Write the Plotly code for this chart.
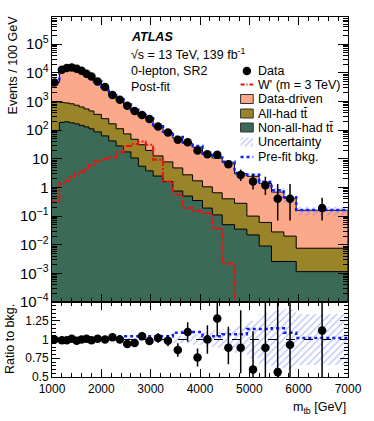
import numpy as np
import plotly.graph_objects as go
from plotly.subplots import make_subplots

# variable binning in m_tb [GeV]; first bin starts below the visible range
bin_edges = [950, 1150, 1250, 1350, 1450, 1550, 1650, 1750, 1850, 2000, 2150, 2300, 2450,
             2600, 2750, 2900, 3050, 3250, 3450, 3650, 3850, 4050, 4250, 4450, 4700, 4950,
             5200, 5450, 5700, 5950, 7000]

# events / 100 GeV
data = [4600, 12800, 14700, 15400, 13900, 11800, 9300, 7500, 5000, 3200, 1700, 1150, 710, 470,
        340, 245, 134, 83, 46, 38, 19.4, 14.5, 13.7, 6.5, 2.7, 1.6, 1.2, 0.4, 0.4, 0.19]
data_err_up = [48, 113, 121, 124, 118, 109, 96, 87, 58, 46, 34, 28, 22, 18, 15, 13, 8.2, 6.4,
               4.8, 4.4, 3.1, 2.7, 2.6, 2.04, 1.5, 1.26, 1.17, 0.92, 0.92, 0.25]
data_err_dn = [48, 113, 121, 124, 118, 109, 96, 87, 58, 46, 34, 28, 22, 18, 15, 13, 8.2, 6.4,
               4.8, 4.4, 3.1, 2.7, 2.6, 1.6, 1.03, 0.76, 0.65, 0.33, 0.33, 0.12]

data_driven = [3620, 11970, 13960, 14420, 13360, 11150, 8650, 7110, 4595, 2950, 1484, 1038,
               681, 444, 294, 230, 118, 76, 48, 31.8, 23.8, 13.5, 10.0, 6.9, 2.72, 2.35, 1.31,
               0.66, 0.40, 0.152]
allhad_tt = [882, 746, 696, 652, 575, 499, 420, 357, 268, 188, 124, 84, 56.6, 37.3, 25.5, 15.7,
             10.1, 6.2, 4.05, 2.25, 1.35, 0.86, 0.54, 0.35, 0.245, 0.078, 0.051, 0.0254, 0.0174,
             0.0064]
nonallhad_tt = [95, 187, 195, 180, 166, 147, 130, 111, 87, 63, 42, 28, 17.4, 10.7, 5.5, 3.8,
                2.5, 1.6, 0.75, 0.5, 0.35, 0.19, 0.11, 0.05, 0.035, 0.022, 0.009, 0.0026,
                0.0026, 0.00115]
wprime = [0.32, 1.4, 1.7, 2.3, 3.0, 3.5, 4.5, 6.0, 8.0, 10, 11, 17, 28, 33, 40, 31, 9.2, 1.6,
          0.55, 0.19, 0.155, 0.126, 0.037, 0.0022, 1e-4, 1e-4, 1e-4, 1e-4, 1e-4, 1e-4]

# ratio panel
prefit_ratio = [1, 1, 1, 1, 1, 1, 1, 1, 1, 1, 1, 1.045, 1.045, 1.045, 1.045, 1.045, 1.045,
                1.045, 1.09, 1.10, 1.10, 1.045, 1.045, 1.07, 1.07, 1.14, 1.14, 1.15, 1.09, 1.02]
bkg_unc = [0.01, 0.01, 0.01, 0.01, 0.01, 0.01, 0.01, 0.01, 0.01, 0.01, 0.02, 0.02, 0.02, 0.02,
           0.03, 0.03, 0.03, 0.03, 0.05, 0.05, 0.07, 0.09, 0.11, 0.14, 0.18, 0.25, 0.34, 0.38,
           0.40, 0.34]
ratio = [1.00, 0.99, 0.99, 1.01, 0.985, 1.00, 1.01, 0.99, 1.01, 1.00, 1.03, 1.00, 0.94, 0.955,
         1.045, 0.98, 1.02, 0.985, 0.86, 1.10, 0.76, 1.00, 1.28, 0.89, 0.89, 0.60, 0.89, 0.565,
         0.93, 1.12]
ratio_err_up = [0.01, 0.01, 0.01, 0.01, 0.01, 0.01, 0.01, 0.01, 0.012, 0.014, 0.02, 0.024,
                0.029, 0.036, 0.046, 0.051, 0.063, 0.076, 0.09, 0.13, 0.12, 0.19, 0.24, 0.28,
                0.5, 0.51, 0.85, 1.33, 2.2, 1.56]
ratio_err_dn = [0.01, 0.01, 0.01, 0.01, 0.01, 0.01, 0.01, 0.01, 0.012, 0.014, 0.02, 0.024,
                0.029, 0.036, 0.046, 0.051, 0.063, 0.076, 0.09, 0.13, 0.12, 0.19, 0.24, 0.22,
                0.34, 0.31, 0.47, 0.48, 0.79, 0.75]

FONT = "Liberation Sans, Arial, Helvetica, sans-serif"
L, R, T, B = 52, 19, 17, 44
PW, PH = 374 - L - R, 421 - T - B

C_DD = "#fba98a"
C_AH = "#9a842a"
C_NAH = "#3b6b56"
C_BLUE = "#1020f0"
C_HATCH = "#7080ff"

edges = np.array(bin_edges, float)
centers = 0.5 * (edges[1:] + edges[:-1])


def step_line(vals):
    v = np.asarray(vals, float)
    return edges, np.append(v, v[-1])


def step_area(vals, floor=1e-7):
    v = np.asarray(vals, float)
    x = np.repeat(edges, 2)
    y = np.concatenate([[floor], np.repeat(v, 2), [floor]])
    return x, y


def band(lo, hi):
    x = np.repeat(edges, 2)[1:-1]
    return (np.concatenate([x, x[::-1]]),
            np.concatenate([np.repeat(hi, 2), np.repeat(lo, 2)[::-1]]))


def px(xp, yp):
    return (xp - L) / PW, (T + PH - yp) / PH


stack1 = np.array(nonallhad_tt)
stack2 = stack1 + np.array(allhad_tt)
total = stack2 + np.array(data_driven)
unc = np.array(bkg_unc)

fig = make_subplots(rows=2, cols=1, shared_xaxes=True, vertical_spacing=0,
                    row_heights=[0.7917, 0.2083])

for vals, col in [(total, C_DD), (stack2, C_AH), (stack1, C_NAH)]:
    x, y = step_area(vals)
    fig.add_trace(go.Scatter(x=x, y=y, mode="lines", fill="toself", fillcolor=col,
                             line=dict(color="black", width=1), hoverinfo="skip",
                             showlegend=False), row=1, col=1)

bx, by = band(total * (1 - unc), total * (1 + unc))
fig.add_trace(go.Scatter(x=bx, y=by, mode="lines", fill="toself", fillcolor="rgba(0,0,0,0)",
                         fillpattern=dict(shape="/", fgcolor=C_HATCH, size=5, solidity=0.25),
                         line=dict(width=0), showlegend=False), row=1, col=1)

x, y = step_line(total * np.array(prefit_ratio))
fig.add_trace(go.Scatter(x=x, y=y, mode="lines", line_shape="hv",
                         line=dict(color=C_BLUE, width=2.5, dash="dot"), showlegend=False),
              row=1, col=1)

x, y = step_line(wprime)
fig.add_trace(go.Scatter(x=x, y=y, mode="lines", line_shape="hv",
                         line=dict(color="#ee1111", width=2, dash="6px,2px,2px,2px"),
                         showlegend=False), row=1, col=1)

fig.add_trace(go.Scatter(x=centers, y=data, mode="markers",
                         marker=dict(color="black", size=8.5),
                         error_y=dict(type="data", symmetric=False, array=data_err_up,
                                      arrayminus=data_err_dn, color="black", thickness=1.5,
                                      width=0),
                         showlegend=False), row=1, col=1)

# ratio panel
bx, by = band(1 - unc, 1 + unc)
fig.add_trace(go.Scatter(x=bx, y=by, mode="lines", fill="toself", fillcolor="rgba(0,0,0,0)",
                         fillpattern=dict(shape="/", fgcolor=C_HATCH, size=5, solidity=0.25),
                         line=dict(width=0), showlegend=False), row=2, col=1)
fig.add_hline(y=1, line=dict(color="black", width=1, dash="dash"), row=2, col=1)
x, y = step_line(prefit_ratio)
fig.add_trace(go.Scatter(x=x, y=y, mode="lines", line_shape="hv",
                         line=dict(color=C_BLUE, width=2.5, dash="dot"), showlegend=False),
              row=2, col=1)
fig.add_trace(go.Scatter(x=centers, y=ratio, mode="markers",
                         marker=dict(color="black", size=8.5),
                         error_y=dict(type="data", symmetric=False, array=ratio_err_up,
                                      arrayminus=ratio_err_dn, color="black", thickness=1.5,
                                      width=0),
                         showlegend=False), row=2, col=1)

# legend symbols on an overlay axis pair in pixel units
ov = dict(xaxis="x3", yaxis="y3", showlegend=False, hoverinfo="skip")
fig.add_trace(go.Scatter(x=[251.5], y=[71], mode="markers",
                         marker=dict(color="black", size=8.5), **ov))
fig.add_trace(go.Scatter(x=[245, 258], y=[84.5, 84.5], mode="lines",
                         line=dict(color="#ee1111", width=2, dash="4px,2px,1px,2px"), **ov))
for yc, col in [(99, C_DD), (113.5, C_AH), (127.5, C_NAH)]:
    fig.add_trace(go.Scatter(x=[245, 258, 258, 245, 245],
                             y=[yc - 4.5, yc - 4.5, yc + 4.5, yc + 4.5, yc - 4.5],
                             mode="lines", fill="toself", fillcolor=col,
                             line=dict(color="#333333", width=1), **ov))
fig.add_trace(go.Scatter(x=[245, 258, 258, 245, 245], y=[137.5, 137.5, 146.5, 146.5, 137.5],
                         mode="lines", fill="toself", fillcolor="rgba(0,0,0,0)",
                         fillpattern=dict(shape="/", fgcolor=C_HATCH, size=4, solidity=0.3),
                         line=dict(width=0), **ov))
fig.add_trace(go.Scatter(x=[245, 258], y=[157, 157], mode="lines",
                         line=dict(color=C_BLUE, width=2.5, dash="dot"), **ov))

legend_text = ["Data", "W' (m = 3 TeV)", "Data-driven", "All-had tt\u0304",
               "Non-all-had tt\u0304", "Uncertainty", "Pre-fit bkg."]
legend_y = [70.5, 84.5, 99, 113.5, 127.5, 142, 156.5]
for t, yy in zip(legend_text, legend_y):
    fig.add_annotation(x=261, y=yy, xref="x3", yref="y3", text=t, showarrow=False,
                       xanchor="left", yanchor="middle", font=dict(size=12.5))

label_text = ["<b><i>ATLAS</i></b>", "\u221As = 13 TeV, 139 fb<sup>-1</sup>",
              "0-lepton, SR2", "Post-fit"]
label_y = [37, 53.5, 70.5, 86.5]
for t, yy in zip(label_text, label_y):
    fig.add_annotation(x=131, y=yy, xref="x3", yref="y3", text=t, showarrow=False,
                       xanchor="left", yanchor="middle", font=dict(size=12.5))

ax, ay = px(12, 13)
fig.add_annotation(x=ax, y=ay, xref="paper", yref="paper", text="Events / 100 GeV",
                   textangle=-90, showarrow=False, xanchor="center", yanchor="top",
                   font=dict(size=12.5))
ax, ay = px(9, 339)
fig.add_annotation(x=ax, y=ay, xref="paper", yref="paper", text="Ratio to bkg.",
                   textangle=-90, showarrow=False, xanchor="center", yanchor="middle",
                   font=dict(size=12.5))
ax, ay = px(355, 408)
fig.add_annotation(x=ax, y=ay, xref="paper", yref="paper", text="m<sub>tb</sub> [GeV]",
                   xanchor="right", yanchor="middle", showarrow=False, font=dict(size=12.5))

axis_common = dict(showline=True, linecolor="black", linewidth=1, mirror="allticks",
                   ticks="inside", tickcolor="black", showgrid=False, zeroline=False)

fig.update_xaxes(range=[1000, 7000], dtick=1000, ticklen=8, ticklabelstandoff=1,
                 minor=dict(ticks="inside", dtick=200, ticklen=4, tickcolor="black"),
                 **axis_common)
fig.update_xaxes(showticklabels=False, row=1, col=1)
fig.update_yaxes(type="log", range=[-4, 5.95], dtick=1, exponentformat="power", ticklen=10,
                 minor=dict(ticks="inside", dtick="D1", ticklen=5, tickcolor="black"),
                 row=1, col=1, **axis_common)
fig.update_yaxes(range=[0.5, 1.5], tickvals=[0.5, 0.75, 1, 1.25],
                 ticktext=["0.5", "0.75", "1", "1.25"], ticklen=8,
                 minor=dict(ticks="inside", dtick=0.05, ticklen=4, tickcolor="black"),
                 row=2, col=1, **axis_common)

fig.update_layout(
    width=374, height=421,
    margin=dict(l=L, r=R, t=T, b=B),
    plot_bgcolor="rgba(0,0,0,0)", paper_bgcolor="white",
    font=dict(family=FONT, size=12, color="black"),
    showlegend=False,
    xaxis3=dict(domain=[0, 1], range=[L, L + PW], visible=False, anchor="y3", fixedrange=True),
    yaxis3=dict(domain=[0, 1], range=[T + PH, T], visible=False, anchor="x3", fixedrange=True),
)

fig.write_html("out.html", config={"displayModeBar": False},
               post_script="document.body.style.margin='0';")
